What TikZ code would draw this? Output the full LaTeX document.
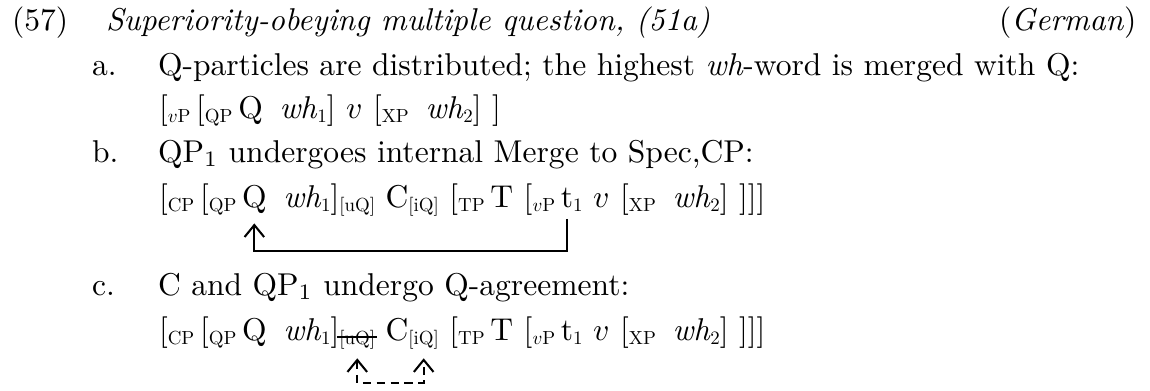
\documentclass[tikz,border=0pt]{standalone}
\usepackage{graphicx}
\usetikzlibrary{arrows.meta}
\newcommand\lab[1]{\raisebox{-1.3pt}{\scalebox{0.6}{#1}}}
\newcommand\sa{\hspace{1.8pt}}
\newcommand\sg{\hspace{5.3pt}}
\begin{document}
\begin{tikzpicture}[x=0.317pt,y=-0.317pt,
  w/.style={inner sep=0pt,outer sep=0pt,anchor=base west},
  lbl/.style={inner sep=0pt,outer sep=0pt,anchor=base west},
  mv/.style={line width=0.65pt,-{Straight Barb[length=3.8pt,width=6.2pt,line width=0.65pt]}},
  agr/.style={line width=0.65pt,dash pattern=on 2.6pt off 1.8pt,{Straight Barb[length=3.8pt,width=6.2pt,line width=0.65pt]}-{Straight Barb[length=3.8pt,width=6.2pt,line width=0.65pt]}},
  strk/.style={line width=0.65pt}]
\useasboundingbox (0,0) rectangle (1150,390);
\def\spc{3.33pt}
% line 1
\node[lbl] (num) at (12,30) {(57)};
\node[lbl] (title) at (106,30) {\textit{Superiority-obeying multiple question, (51a)}};
\node[inner sep=0pt,anchor=base east] (lang) at (1137,30) {(\textit{German})};
% a
\node[lbl] (la) at (92,75) {a.};
\node[lbl] (ta) at (158,75) {Q-particles are distributed; the highest \textit{wh}-word is merged with Q:};
\node[w] (sa) at (159,118) {[\lab{$v$P}\sa[\lab{QP}\sa Q\sg\textit{wh}\lab{1}] $v$ [\lab{XP}\sg\textit{wh}\lab{2}] ]};
% b
\node[lbl] (lb) at (92,162) {b.};
\node[lbl] (tb) at (158,162) {QP$_1$ undergoes internal Merge to Spec,CP:};
\node[w] (b1) at (159,207) {[\lab{CP}\sa[\lab{QP}};
\node[w] (bQ) at ([xshift=1.8pt]b1.base east) {Q};
\node[w] (b2) at ([xshift=5.3pt]bQ.base east) {\textit{wh}\lab{1}]};
\node[w] (bu) at (b2.base east) {\lab{[uQ]}};
\node[w] (b3) at ([xshift=\spc]bu.base east) {C};
\node[w] (bi) at (b3.base east) {\lab{[iQ]}};
\node[w] (b4) at ([xshift=\spc]bi.base east) {[\lab{TP}\sa T [\lab{$v$P}};
\node[w] (bt) at ([xshift=1.8pt]b4.base east) {t\lab{1}};
\node[w] (b5) at ([xshift=\spc]bt.base east) {$v$ [\lab{XP}\sg\textit{wh}\lab{2}] ]]]};
\coordinate (tfoot) at ([xshift=1.95pt,yshift=-3.8pt]bt.base west);
\coordinate (qfoot) at ([yshift=-5.2pt]bQ.base);
\draw[mv] (tfoot) -- ++(0,-10.2pt) -| (qfoot);
% c
\node[lbl] (lc) at (92,295) {c.};
\node[lbl] (tc) at (158,295) {C and QP$_1$ undergo Q-agreement:};
\node[w] (c1) at (159,340) {[\lab{CP}\sa[\lab{QP}};
\node[w] (cQ) at ([xshift=1.8pt]c1.base east) {Q};
\node[w] (c2) at ([xshift=5.3pt]cQ.base east) {\textit{wh}\lab{1}]};
\node[w] (cu) at (c2.base east) {\lab{[uQ]}};
\node[w] (c3) at ([xshift=\spc]cu.base east) {C};
\node[w] (ci) at (c3.base east) {\lab{[iQ]}};
\node[w] (c4) at ([xshift=\spc]ci.base east) {[\lab{TP}\sa T [\lab{$v$P}};
\node[w] (ct) at ([xshift=1.8pt]c4.base east) {t\lab{1}};
\node[w] (c5) at ([xshift=\spc]ct.base east) {$v$ [\lab{XP}\sg\textit{wh}\lab{2}] ]]]};
\draw[strk] ([xshift=-0.8pt,yshift=0.9pt]cu.base west) -- ([xshift=0.5pt,yshift=0.9pt]cu.base east);
\coordinate (ufoot) at ([yshift=-5.8pt]cu.base);
\coordinate (ifoot) at ([yshift=-5.8pt]ci.base);
\draw[agr] (ufoot) -- ++(0,-7.9pt) -| (ifoot);
\end{tikzpicture}
\end{document}
